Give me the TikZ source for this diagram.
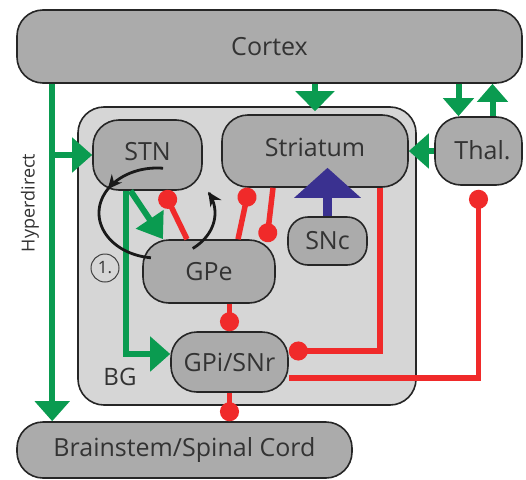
\documentclass[tikz,border=0pt]{standalone}
\usepackage{fontspec}
\setmainfont{Open Sans}
\usetikzlibrary{arrows.meta,calc}
\definecolor{gfill}{HTML}{ABABAB}
\definecolor{bgfill}{HTML}{D6D6D6}
\definecolor{grn}{HTML}{0A9B50}
\definecolor{rd}{HTML}{F02A2A}
\definecolor{blu}{HTML}{3A3190}
\definecolor{txt}{HTML}{333333}
\begin{document}
\begin{tikzpicture}[x=1pt,y=-1pt,
  box/.style={draw=black!85,line width=1.6pt,fill=gfill,rounded corners=26pt,inner sep=0pt,text=txt,font=\fontsize{25}{25}\selectfont},
  garrow/.style={draw=grn,line width=6pt,-{Triangle[length=20pt,width=34pt]}},
  inh/.style={draw=rd,line width=5.5pt,-{Circle[length=19pt]}},
  loopline/.style={draw=black!90,line width=2.8pt},
  lbl/.style={text=txt,inner sep=0pt}
]
\useasboundingbox (0,0) rectangle (526,479);
% basal ganglia box
\node[box,fill=bgfill,minimum width=338pt,minimum height=298pt] (BG) at (247,256) {};
% nodes
\node[box,minimum width=505pt,minimum height=73pt] (Cortex) at (269.5,46.5) {Cortex};
\node[box,minimum width=109pt,minimum height=70pt] (STN) at (147.5,155) {\raisebox{8pt}{STN}};
\node[box,minimum width=186pt,minimum height=72pt] (Striatum) at (315,151) {\raisebox{8pt}{Striatum}};
\node[box,minimum width=87pt,minimum height=68pt] (Thal) at (478.5,151) {\hspace*{8pt}\raisebox{2pt}{Thal.}};
\node[box,rounded corners=20pt,minimum width=79pt,minimum height=48pt] (SNc) at (327.5,241) {SNc};
\node[box,minimum width=132pt,minimum height=63pt] (GPe) at (209,271.5) {GPe};
\node[box,minimum width=117pt,minimum height=60pt] (GPi) at (229.5,362) {GPi/SNr};
\node[box,minimum width=335pt,minimum height=56pt] (Brainstem) at (184.5,450) {Brainstem/Spinal Cord};
% labels
\node[lbl,font=\fontsize{24}{24}\selectfont] (BGlabel) at (120,377) {BG};
\node[lbl,rotate=90,font=\fontsize{18}{18}\selectfont] (hdlabel) at (30,203) {Hyperdirect};
\node[circle,draw=black!75,line width=1pt,minimum size=28pt,inner sep=0pt,text=txt,font=\fontsize{17}{17}\selectfont] (one) at (105,268) {1.};
% hyperdirect
\coordinate (hdtop) at ([xshift=36pt]Cortex.south west);
\coordinate (hdbr) at (hdtop |- STN.west);
\draw[garrow] (hdtop) -- (hdtop |- Brainstem.north);
\draw[garrow] (hdbr) -- (STN.west);
% cortex -> striatum, cortex <-> thalamus
\draw[garrow,-{Triangle[length=20pt,width=38pt]},shorten >=-5pt] (Cortex.south -| Striatum.north) -- (Striatum.north |- BG.north);
\draw[garrow,-{Triangle[length=18pt,width=30pt]}] ([xshift=-20pt]Thal.north |- Cortex.south) -- ([xshift=-20pt]Thal.north);
\draw[garrow,-{Triangle[length=18pt,width=30pt]}] ([xshift=14pt]Thal.north) -- ([xshift=14pt]Thal.north |- Cortex.south);
\draw[garrow,-{Triangle[length=20pt,width=34pt]}] (Thal.west) -- (Striatum.east);
% STN outputs
\draw[garrow,-{Triangle[length=24pt,width=32pt]}] ([xshift=-17pt]STN.south) -- ([xshift=-46pt]GPe.north);
\draw[garrow] ([xshift=-22pt]STN.south) |- ([yshift=8pt]GPi.west);
% inhibitory
\draw[inh] ([xshift=-22pt]GPe.north) -- ([xshift=16pt]STN.south);
\draw[inh] ([xshift=29pt]GPe.north) -- ([xshift=-66pt]Striatum.south);
\draw[inh,shorten >=-3pt] ([xshift=-42pt]Striatum.south) -- ([xshift=58pt]GPe.north);
\draw[inh] ([xshift=65pt]Striatum.south) |- ([yshift=11pt]GPi.east);
\draw[inh,shorten >=4pt] ([yshift=-16pt]GPi.east) -| (Thal.south);
\draw[inh] (GPi.north |- GPe.south) -- (GPi.north);
\draw[inh] (GPi.south) -- (GPi.south |- Brainstem.north);
% dopamine
\draw[draw=blu,line width=9pt,-{Triangle[length=30pt,width=65pt]},shorten >=-20pt] (SNc.north) -- (SNc.north |- Striatum.south);
% STN-GPe loop
\draw[loopline,-{Stealth[length=14pt,width=13pt]}] plot[domain=276:212,samples=40,variable=\t] ({157+58*cos(\t)},{213+45*sin(\t)});
\draw[loopline] plot[domain=214:96,samples=60,variable=\t] ({157+58*cos(\t)},{213+45*sin(\t)});
\draw[loopline,-{Stealth[length=14pt,width=13pt]}] plot[domain=52:-28,samples=50,variable=\t] ({157+58*cos(\t)},{213+45*sin(\t)});
\end{tikzpicture}
\end{document}
